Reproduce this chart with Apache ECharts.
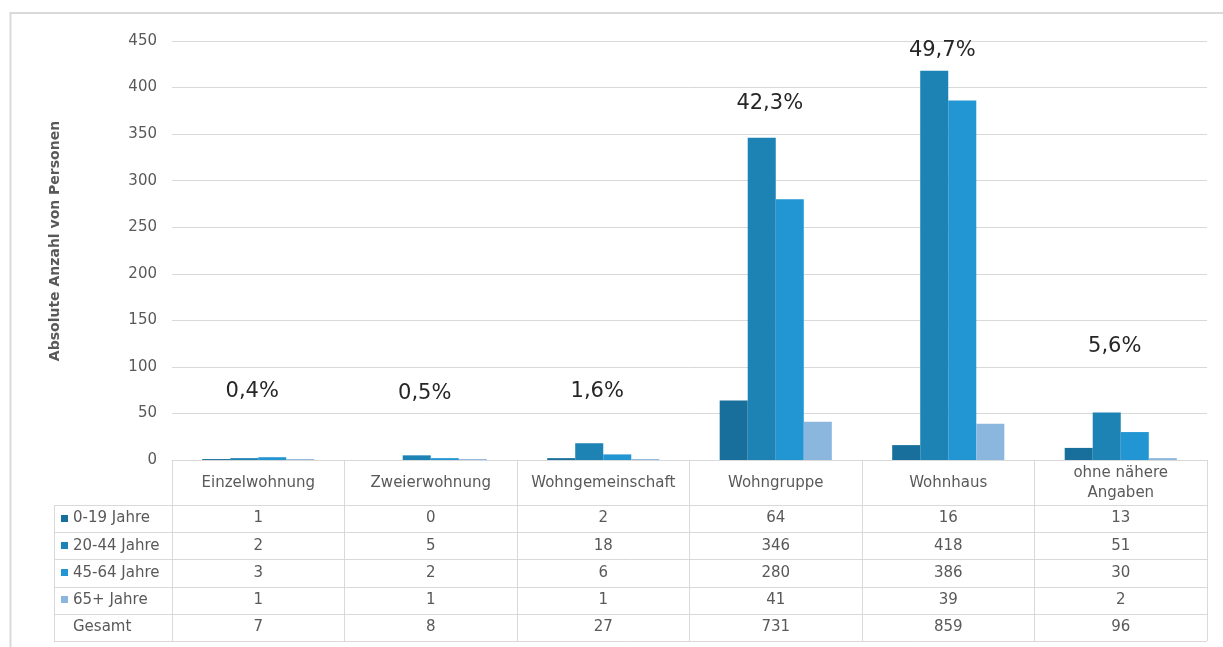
<!DOCTYPE html>
<html>
<head>
<meta charset="utf-8">
<script src="https://cdn.jsdelivr.net/npm/echarts@6/dist/echarts.min.js"></script>
<style>
  html, body { margin: 0; padding: 0; background: #fff; }
  #chart { width: 1223px; height: 647px; }
</style>
</head>
<body>
<div id="chart"></div>
<script>
// Wohnform der Personen nach Altersgruppe
const categories = ['Einzelwohnung', 'Zweierwohnung', 'Wohngemeinschaft', 'Wohngruppe', 'Wohnhaus', 'ohne nähere\nAngaben'];
const seriesNames = ['0-19 Jahre', '20-44 Jahre', '45-64 Jahre', '65+ Jahre'];
const age0to19 = [1, 0, 2, 64, 16, 13];
const age20to44 = [2, 5, 18, 346, 418, 51];
const age45to64 = [3, 2, 6, 280, 386, 30];
const age65plus = [1, 1, 1, 41, 39, 2];
const totals = [7, 8, 27, 731, 859, 96];
const totalLabel = 'Gesamt';
const yTicks = { min: 0, max: 450, interval: 50 };

// Layout: height (axis units) at which each share label is drawn
const shareLabelHeight = [73, 71, 73, 383, 440, 122];

const colors = ['#186f9b', '#1d83b5', '#2196d3', '#8bb6dd'];
const values = [age0to19, age20to44, age45to64, age65plus];
const grand = totals.reduce((a, b) => a + b, 0);
const shareText = totals.map(t => (t / grand * 100).toFixed(1).replace('.', ',') + '%');

const FONT = 'DejaVu Sans';
const GRID = { left: 172, right: 16, top: 41, bottom: 187 };
const HEADER_H = 45;
const ROW_H = 27.2;
const TABLE_LEFT = 54;
const LINE = '#d9d9d9';
const TXT = '#595959';

const chart = echarts.init(document.getElementById('chart'));

const barSeries = seriesNames.map((name, k) => ({
  name: name,
  type: 'bar',
  data: values[k],
  barGap: 0,
  barCategoryGap: '35%',
  itemStyle: { color: colors[k] },
  z: 3
}));

chart.setOption({
  animation: false,
  grid: GRID,
  xAxis: {
    type: 'category',
    data: categories,
    axisLine: { show: true, lineStyle: { color: LINE, width: 1 } },
    axisTick: { show: true, length: HEADER_H + ROW_H * 5, lineStyle: { color: LINE } },
    axisLabel: {
      interval: 0,
      margin: HEADER_H / 2 + 1,
      verticalAlign: 'middle',
      fontFamily: FONT,
      fontSize: 15,
      lineHeight: 20,
      color: TXT
    }
  },
  yAxis: {
    type: 'value',
    min: yTicks.min,
    max: yTicks.max,
    interval: yTicks.interval,
    axisLine: { show: false },
    axisTick: { show: false },
    axisLabel: { margin: 15, fontFamily: FONT, fontSize: 15, color: TXT },
    splitLine: { lineStyle: { color: LINE, width: 1 } }
  },
  series: barSeries.concat([{
    name: 'Anteil',
    type: 'scatter',
    symbolSize: 1,
    itemStyle: { color: 'rgba(0,0,0,0)', opacity: 1 },
    data: shareLabelHeight.map((h, i) => [i, h]),
    label: {
      show: true,
      position: 'inside',
      offset: [-6, 0],
      formatter: p => shareText[p.dataIndex],
      fontFamily: FONT,
      fontSize: 21,
      color: '#262626',
      opacity: 1,
      textBorderWidth: 0
    },
    z: 5
  }])
});

// Data table under the plot: row lines, legend column, values and the totals row
const x0 = chart.convertToPixel({ xAxisIndex: 0 }, 0);
const x1 = chart.convertToPixel({ xAxisIndex: 0 }, 1);
const step = x1 - x0;
const baseY = chart.convertToPixel({ yAxisIndex: 0 }, 0);
const tableRight = chart.convertToPixel({ xAxisIndex: 0 }, categories.length - 1) + step / 2;
const firstRowTop = baseY + HEADER_H;
const rows = values.concat([totals]);
const rowNames = seriesNames.concat([totalLabel]);

const elements = [];
// outer frame
elements.push({
  type: 'rect', shape: { x: 10.5, y: 13, width: 1300, height: 700 },
  style: { fill: 'none', stroke: LINE, lineWidth: 2 }, silent: true
});
// y-axis title
elements.push({
  type: 'text', x: 55, y: 241, rotation: Math.PI / 2,
  style: {
    text: 'Absolute Anzahl von Personen', fontFamily: FONT, fontSize: 14, fontWeight: 'bold',
    fill: TXT, align: 'center', verticalAlign: 'middle'
  }, silent: true
});
// horizontal row lines
for (let r = 0; r <= rows.length; r++) {
  const y = Math.round(firstRowTop + r * ROW_H) + 0.5;
  elements.push({
    type: 'line', shape: { x1: TABLE_LEFT, y1: y, x2: tableRight, y2: y },
    style: { stroke: LINE, lineWidth: 1 }, silent: true
  });
}
// left edge of the legend column
elements.push({
  type: 'line',
  shape: { x1: TABLE_LEFT + 0.5, y1: Math.round(firstRowTop), x2: TABLE_LEFT + 0.5, y2: Math.round(firstRowTop + rows.length * ROW_H) + 1 },
  style: { stroke: LINE, lineWidth: 1 }, silent: true
});
rows.forEach((row, r) => {
  const cy = firstRowTop + (r + 0.5) * ROW_H;
  // legend key and row caption
  if (r < seriesNames.length) {
    elements.push({
      type: 'rect', shape: { x: 61, y: Math.round(cy) - 4, width: 7, height: 7 },
      style: { fill: colors[r] }, silent: true
    });
  }
  elements.push({
    type: 'text', x: 73, y: cy,
    style: { text: rowNames[r], fontFamily: FONT, fontSize: 15, fill: TXT, align: 'left', verticalAlign: 'middle', letterSpacing: 0.5 },
    silent: true
  });
  // cell values
  row.forEach((v, i) => {
    elements.push({
      type: 'text',
      x: chart.convertToPixel({ xAxisIndex: 0 }, i),
      y: cy,
      style: { text: String(v), fontFamily: FONT, fontSize: 15, fill: TXT, align: 'center', verticalAlign: 'middle' },
      silent: true
    });
  });
});

chart.setOption({ graphic: { elements: elements } });
</script>
</body>
</html>
